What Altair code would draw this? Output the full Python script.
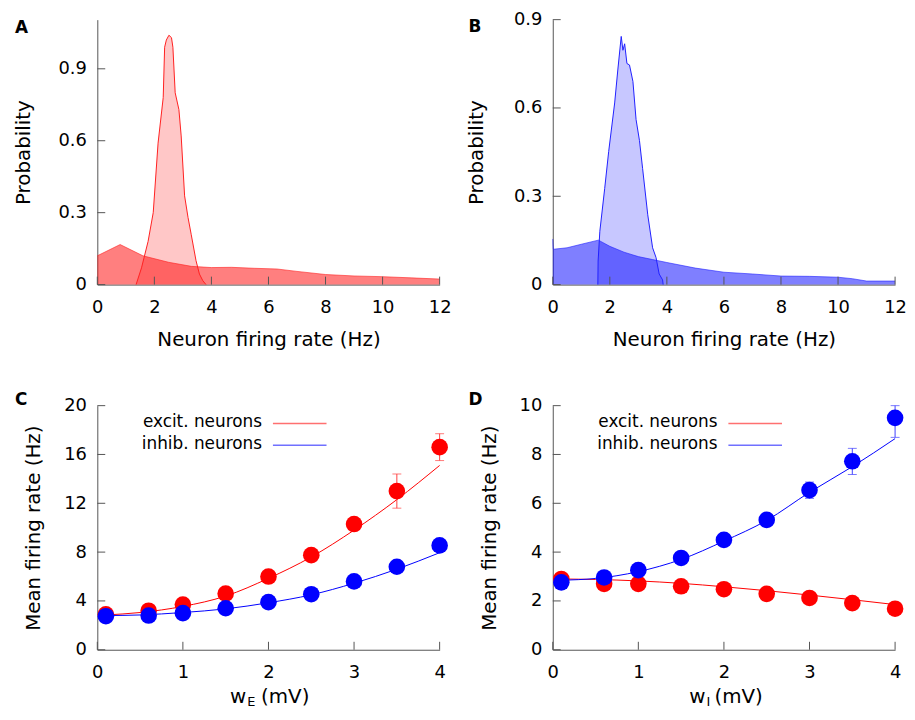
import altair as alt
import pandas as pd

FONT = "DejaVu Sans"

# ---------------- Panel A (excitatory firing-rate distributions) ----------------
a_broad_x = [0.0, 0.8, 1.6, 2.5, 3.3, 4.0, 4.7, 5.5, 6.3, 7.0, 8.0, 9.0, 10.0, 11.0, 12.0]
a_broad_y = [0.12, 0.167, 0.12, 0.093, 0.076, 0.071, 0.072, 0.068, 0.065, 0.055, 0.042, 0.036, 0.033, 0.028, 0.023]
a_narrow_x = [1.36, 1.55, 1.78, 1.96, 2.13, 2.31, 2.36, 2.42, 2.51, 2.60, 2.65, 2.73, 2.86, 2.94, 3.06,
              3.18, 3.29, 3.46, 3.58, 3.70, 3.81]
a_narrow_y = [0.0, 0.07, 0.18, 0.30, 0.59, 0.78, 0.99, 1.02, 1.04, 1.03, 0.99, 0.80, 0.73, 0.62, 0.37,
              0.28, 0.21, 0.10, 0.044, 0.016, 0.0]

# ---------------- Panel B (inhibitory firing-rate distributions) ----------------
b_broad_x = [0.0, 0.02, 0.5, 1.0, 1.6, 2.0, 2.5, 3.0, 3.5, 4.0, 5.0, 6.0, 7.0, 8.0, 9.0, 10.0, 10.5, 11.0, 12.0]
b_broad_y = [0.155, 0.12, 0.125, 0.137, 0.151, 0.13, 0.11, 0.095, 0.085, 0.075, 0.056, 0.042, 0.036, 0.029,
             0.028, 0.025, 0.02, 0.012, 0.012]
b_narrow_x = [1.58, 1.59, 1.65, 1.82, 1.96, 2.17, 2.28, 2.40, 2.46, 2.52, 2.60, 2.69, 2.81, 2.92, 3.04,
              3.15, 3.33, 3.50, 3.62, 3.73, 3.85, 3.87]
b_narrow_y = [0.0, 0.08, 0.181, 0.326, 0.452, 0.617, 0.729, 0.843, 0.796, 0.818, 0.751, 0.746, 0.690,
              0.561, 0.489, 0.394, 0.237, 0.125, 0.092, 0.036, 0.016, 0.0]

dist_xticks = [0, 2, 4, 6, 8, 10, 12]
a_yticks = [0, 0.3, 0.6, 0.9]
b_yticks = [0, 0.3, 0.6, 0.9]

# ---------------- Panel C (vs w_E) ----------------
w_vals = [0.1, 0.6, 1.0, 1.5, 2.0, 2.5, 3.0, 3.5, 4.0]
c_exc = [2.9, 3.2, 3.7, 4.6, 6.0, 7.75, 10.3, 13.0, 16.6]
c_inh = [2.75, 2.8, 3.0, 3.4, 3.9, 4.55, 5.6, 6.8, 8.55]
c_exc_err_x = [3.5, 4.0]
c_exc_err_lo = [11.6, 15.5]
c_exc_err_hi = [14.4, 17.7]
fit_x = [0.1, 0.5, 1.0, 1.5, 2.0, 2.5, 3.0, 3.5, 4.0]
c_exc_fit = [2.85, 3.05, 3.55, 4.4, 5.85, 7.6, 9.8, 12.3, 15.1]
c_inh_fit = [2.8, 2.85, 3.05, 3.35, 3.85, 4.5, 5.45, 6.6, 7.95]
c_yticks = [0, 4, 8, 12, 16, 20]

# ---------------- Panel D (vs w_I) ----------------
d_exc = [2.9, 2.7, 2.7, 2.6, 2.48, 2.29, 2.12, 1.91, 1.68]
d_inh = [2.76, 2.96, 3.26, 3.76, 4.5, 5.32, 6.54, 7.72, 9.5]
d_inh_err_x = [3.0, 3.5, 4.0]
d_inh_err_lo = [6.2, 7.18, 8.7]
d_inh_err_hi = [6.87, 8.25, 10.0]
d_exc_fit = [2.9, 2.88, 2.82, 2.72, 2.58, 2.42, 2.24, 2.05, 1.85]
d_inh_fit = [2.85, 2.92, 3.2, 3.7, 4.45, 5.3, 6.45, 7.5, 8.65]
d_yticks = [0, 2, 4, 6, 8, 10]

w_xticks = [0, 1, 2, 3, 4]
legend_labels = ["excit. neurons", "inhib. neurons"]

RED = "#ff0000"
BLUE = "#0000ff"
AXIS_COL = "#555555"

W = 345
H1 = 267
H2 = 246
TICK = 8


def inward_ticks(xticks, yticks, h):
    xt = alt.Chart(pd.DataFrame({"x": xticks})).mark_rule(color=AXIS_COL, strokeWidth=1).encode(
        x="x:Q", y=alt.value(h), y2=alt.value(h - TICK))
    yt = alt.Chart(pd.DataFrame({"y": yticks})).mark_rule(color=AXIS_COL, strokeWidth=1).encode(
        y="y:Q", x=alt.value(0), x2=alt.value(TICK))
    return [xt, yt]


def letter(txt, dx, dy):
    return alt.Chart(pd.DataFrame({"t": [txt]})).mark_text(
        font=FONT, fontSize=17, fontWeight="bold", align="left", baseline="alphabetic",
        color="black").encode(text="t:N", x=alt.value(dx), y=alt.value(dy))


def dist_panel(bx, by, nx, ny, color, stroke, ymax, yticks, let, let_dx, let_dy, title_x):
    broad = pd.DataFrame({"x": bx, "y": by})
    narrow = pd.DataFrame({"x": nx, "y": ny})
    xenc = alt.X("x:Q", scale=alt.Scale(domain=[0, 12], nice=False, padding=0),
                 axis=alt.Axis(values=dist_xticks, format="d", labelFlush=False,
                               title="Neuron firing rate (Hz)",
                               titleY=61, titleBaseline="alphabetic"))
    yenc = alt.Y("y:Q", scale=alt.Scale(domain=[0, ymax], nice=False, padding=0),
                 axis=alt.Axis(values=yticks, format=".1~f", title="Probability",
                               titleX=title_x, titleBaseline="alphabetic"))
    n_area = alt.Chart(narrow).mark_area(color=color, opacity=0.22).encode(x=xenc, y=yenc)
    b_area = alt.Chart(broad).mark_area(color=color, opacity=0.5).encode(x="x:Q", y="y:Q")
    n_line = alt.Chart(narrow).mark_line(color=stroke, strokeWidth=1).encode(x="x:Q", y="y:Q")
    b_line = alt.Chart(broad).mark_line(color=stroke, strokeWidth=1, opacity=0.6).encode(x="x:Q", y="y:Q")
    layers = [n_area, b_area, n_line, b_line] + inward_ticks(dist_xticks, yticks, H1) + [letter(let, let_dx, let_dy)]
    return alt.layer(*layers).properties(width=W, height=H1)


def rate_panel(exc, inh, exc_fit, inh_fit, err_x, err_lo, err_hi, err_color, ymax, yticks,
               sub, let, let_dx, let_dy, title_x, w_right, mv_left):
    pts = pd.DataFrame({"x": w_vals, "exc": exc, "inh": inh})
    fit = pd.DataFrame({"x": fit_x, "exc": exc_fit, "inh": inh_fit})
    err = pd.DataFrame({"x": err_x, "lo": err_lo, "hi": err_hi})
    xenc = alt.X("x:Q", scale=alt.Scale(domain=[0, 4], nice=False, padding=0),
                 axis=alt.Axis(values=w_xticks, format="d", labelFlush=False, title=""))
    yenc = alt.Y("exc:Q", scale=alt.Scale(domain=[0, ymax], nice=False, padding=0),
                 axis=alt.Axis(values=yticks, format="d", title="Mean firing rate (Hz)",
                               titleX=title_x, titleBaseline="alphabetic"))
    exc_fit_l = alt.Chart(fit).mark_line(color=RED, strokeWidth=1, interpolate="monotone").encode(x=xenc, y=yenc)
    inh_fit_l = alt.Chart(fit).mark_line(color=BLUE, strokeWidth=1, interpolate="monotone").encode(x="x:Q", y="inh:Q")
    e_rule = alt.Chart(err).mark_rule(color=err_color, strokeWidth=1).encode(x="x:Q", y="lo:Q", y2="hi:Q")
    e_cap1 = alt.Chart(err).mark_tick(color=err_color, orient="horizontal", size=9, thickness=1).encode(x="x:Q", y="lo:Q")
    e_cap2 = alt.Chart(err).mark_tick(color=err_color, orient="horizontal", size=9, thickness=1).encode(x="x:Q", y="hi:Q")
    exc_pts = alt.Chart(pts).mark_circle(color=RED, size=280, opacity=1).encode(x="x:Q", y="exc:Q")
    inh_pts = alt.Chart(pts).mark_circle(color=BLUE, size=280, opacity=1).encode(x="x:Q", y="inh:Q")

    # legend (gnuplot style: label left, line sample right)
    leg = []
    for i, (lab, col) in enumerate(zip(legend_labels, ["#ff7070", "#7070ff"])):
        yy = 22 + 22 * i
        leg.append(alt.Chart(pd.DataFrame({"t": [lab]})).mark_text(
            font=FONT, fontSize=17, align="right", baseline="alphabetic", color="black").encode(
            text="t:N", x=alt.value(166), y=alt.value(yy)))
        leg.append(alt.Chart(pd.DataFrame({"t": [lab]})).mark_rule(color=col, strokeWidth=1.5).encode(
            x=alt.value(177), x2=alt.value(231), y=alt.value(yy - 4)))

    # x-axis title with subscript
    xt_y = H2 + 54
    title_parts = [
        alt.Chart(pd.DataFrame({"t": ["w"]})).mark_text(font=FONT, fontSize=20, align="right",
            baseline="alphabetic", color="black").encode(text="t:N", x=alt.value(w_right), y=alt.value(xt_y)),
        alt.Chart(pd.DataFrame({"t": [sub]})).mark_text(font=FONT, fontSize=13, align="left",
            baseline="alphabetic", color="black").encode(text="t:N", x=alt.value(w_right + 1), y=alt.value(xt_y + 3)),
        alt.Chart(pd.DataFrame({"t": ["(mV)"]})).mark_text(font=FONT, fontSize=20, align="left",
            baseline="alphabetic", color="black").encode(text="t:N", x=alt.value(mv_left), y=alt.value(xt_y)),
    ]
    layers = ([exc_fit_l, inh_fit_l, e_rule, e_cap1, e_cap2, exc_pts, inh_pts]
              + inward_ticks(w_xticks, yticks, H2) + leg + title_parts + [letter(let, let_dx, let_dy)])
    return alt.layer(*layers).properties(width=W, height=H2)


pA = dist_panel(a_broad_x, a_broad_y, a_narrow_x, a_narrow_y, RED, "#ff2020", 1.105, a_yticks, "A", -83, 13, -68)
pB = dist_panel(b_broad_x, b_broad_y, b_narrow_x, b_narrow_y, BLUE, "#2020ff", 0.9, b_yticks, "B", -85, 12, -71)
pC = rate_panel(c_exc, c_inh, c_exc_fit, c_inh_fit, c_exc_err_x, c_exc_err_lo, c_exc_err_hi, "#ff4040",
                20, c_yticks, "E", "C", -83, -1, -58, 150, 165)
pD = rate_panel(d_exc, d_inh, d_exc_fit, d_inh_fit, d_inh_err_x, d_inh_err_lo, d_inh_err_hi, "#4040ff",
                10, d_yticks, "I", "D", -85, -1, -58, 154, 163)

chart = alt.concat(pA, pB, pC, pD, columns=2, spacing={"row": 122, "column": 114}).properties(
    bounds="flush",
    padding={"left": 5, "top": 0, "right": 0, "bottom": 0},
    background="white",
).configure_view(stroke=None).configure_axis(
    domainColor=AXIS_COL,
    domainWidth=1,
    ticks=False,
    tickSize=0,
    grid=False,
    labelFont=FONT,
    labelFontSize=18,
    labelColor="black",
    titleFont=FONT,
    titleFontSize=20,
    titleFontWeight="normal",
    titleColor="black",
).configure_axisX(labelPadding=14).configure_axisY(labelPadding=11)

chart.save("out.html", embed_options={"renderer": "svg", "actions": False})
